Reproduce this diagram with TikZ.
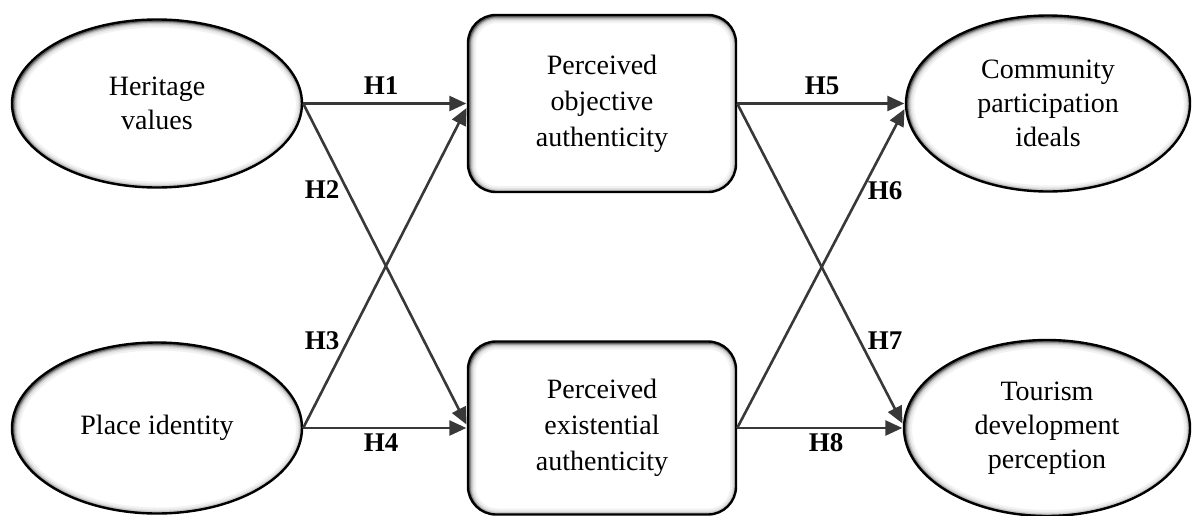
\documentclass[tikz,border=0pt]{standalone}
\usepackage{fontspec}
\setmainfont{Liberation Serif}
\usetikzlibrary{arrows.meta,shapes.geometric}
\tikzset{
  ellglow/.style 2 args={ellipse, draw=black, line width=2.4pt, fill=white,
    minimum width=#1, minimum height=#2, inner sep=0pt, align=center,
    font=\fontsize{28}{34}\selectfont,
    path picture={
      \foreach \w/\c in {14/5,10/11,7/22,4.5/38,2.5/60}{
        \draw[line width=\w pt, black!\c] ([xshift=1pt,yshift=-1pt]path picture bounding box.center)
          ellipse [x radius=#1/2, y radius=#2/2];}
    }},
  boxglow/.style 2 args={rectangle, rounded corners=28pt, draw=black, line width=2.4pt, fill=white,
    minimum width=#1, minimum height=#2, inner sep=0pt, align=center,
    font=\fontsize{28}{36}\selectfont,
    path picture={
      \foreach \w/\c in {14/5,10/11,7/22,4.5/38,2.5/60}{
        \draw[line width=\w pt, black!\c, rounded corners=28pt]
          ([xshift=1pt,yshift=-1pt]path picture bounding box.south west) rectangle
          ([xshift=1pt,yshift=-1pt]path picture bounding box.north east);}
    }},
  arr/.style={draw=black!78, line width=2.6pt, -{Triangle[length=17pt,width=15pt]}, shorten >=0.5pt},
  hlab/.style={font=\fontsize{27}{30}\selectfont\bfseries, inner sep=0pt}
}
\begin{document}
\begin{tikzpicture}[x=1pt,y=-1pt]
\useasboundingbox (0,0) rectangle (1192,515);
% nodes
\node[ellglow={290pt}{168pt}] (hv) at (157,103.5) {Heritage\\values};
\node[ellglow={290pt}{171pt}] (pi) at (157,428) {Place identity};
\node[boxglow={268pt}{177pt}] (poa) at (602,103.5) {Perceived\\objective\\authenticity};
\node[boxglow={268pt}{173pt}] (pea) at (602,428) {Perceived\\existential\\authenticity};
\node[ellglow={284pt}{176pt}] (cpi) at (1048,103.5) {Community\\participation\\ideals};
\node[ellglow={286pt}{176pt}] (tdp) at (1047,428) {Tourism\\development\\perception};
% connectors
\draw[arr] (hv.east) -- (poa.west);
\draw[arr] (hv.east) -- ([yshift=3pt]pea.west);
\draw[arr] (pi.east) -- ([yshift=-4pt]poa.west);
\draw[arr] (pi.east) -- (pea.west);
\draw[arr] (poa.east) -- (cpi.west);
\draw[arr] (pea.east) -- ([yshift=-5pt]cpi.west);
\draw[arr] (poa.east) -- ([yshift=4pt]tdp.west);
\draw[arr] (pea.east) -- (tdp.west);
% labels
\node[hlab] (h1) at (381,86) {H1};
\node[hlab] (h2) at (322,190) {H2};
\node[hlab] (h3) at (322,341) {H3};
\node[hlab] (h4) at (381,443) {H4};
\node[hlab] (h5) at (822,86) {H5};
\node[hlab] (h6) at (885,191) {H6};
\node[hlab] (h7) at (885,341) {H7};
\node[hlab] (h8) at (826,443) {H8};
\end{tikzpicture}
\end{document}
